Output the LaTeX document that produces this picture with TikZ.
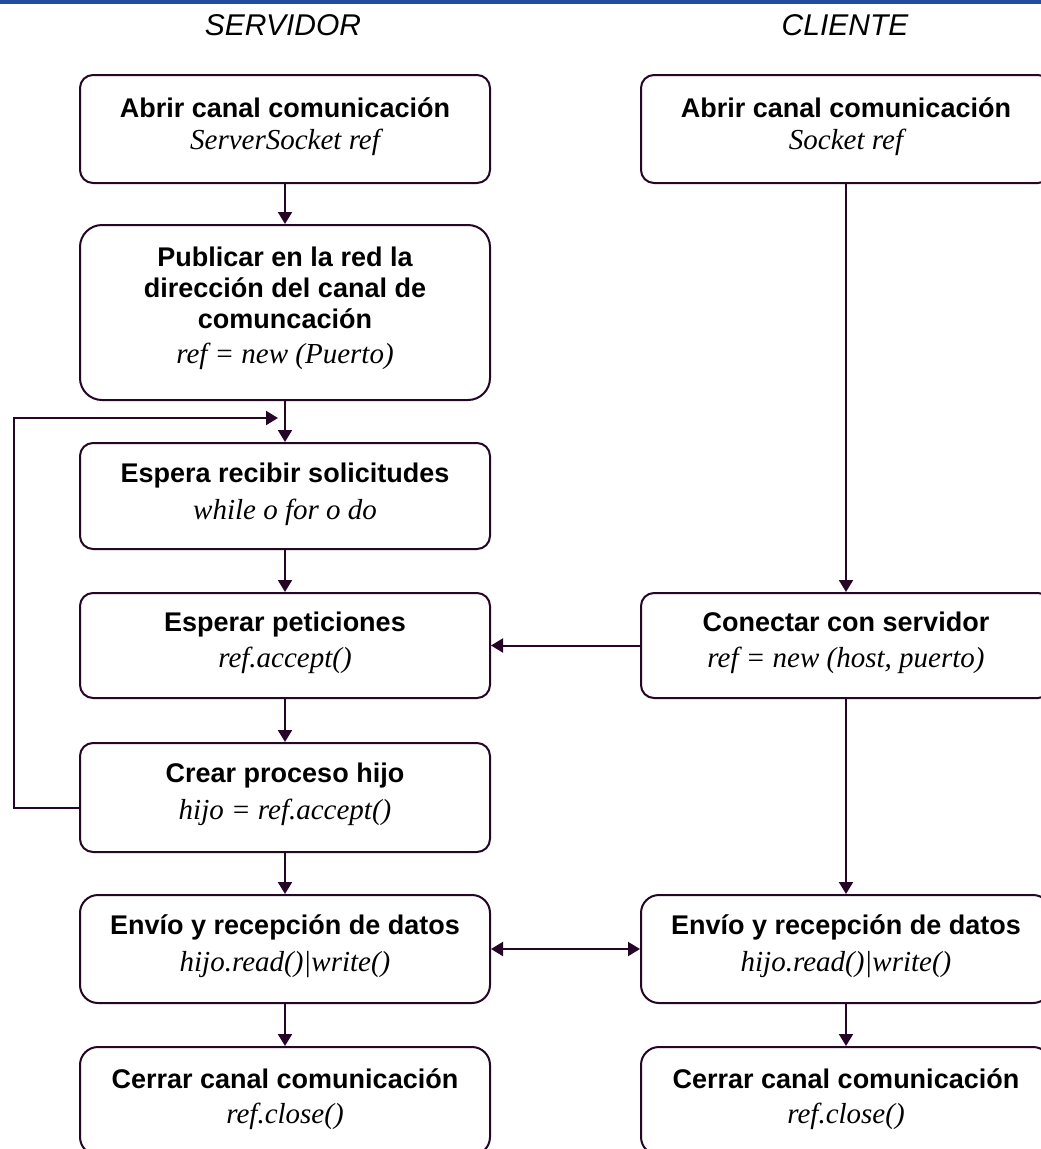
\documentclass[tikz,border=0pt]{standalone}
\usepackage{fontspec}
\setmainfont{Liberation Serif}
\setsansfont{Liberation Sans}
\usetikzlibrary{arrows.meta,calc}

\definecolor{ink}{RGB}{38,6,38}
\definecolor{topbar}{RGB}{31,78,160}

\tikzset{
  stepbox/.style={draw=ink, line width=2pt, rounded corners=13pt,
    minimum width=410pt, inner sep=0pt, fill=white},
  ttl/.style={anchor=base, inner sep=0pt, text=black,
    font=\sffamily\bfseries\fontsize{27}{30}\selectfont},
  code/.style={anchor=base, inner sep=0pt, text=black,
    font=\rmfamily\itshape\fontsize{29}{32}\selectfont},
  head/.style={anchor=base, inner sep=0pt, text=black,
    font=\sffamily\itshape\fontsize{30}{32}\selectfont},
  arr/.style={draw=ink, line width=2pt,
    -{Triangle[length=12pt,width=14pt]}},
  darr/.style={draw=ink, line width=2pt,
    {Triangle[length=12pt,width=14pt]}-{Triangle[length=12pt,width=14pt]}},
}

\begin{document}
\begin{tikzpicture}[x=1pt,y=-1pt]
\useasboundingbox (0,0) rectangle (1041,1149);
\clip (0,0) rectangle (1041,1149);
\fill[white] (0,0) rectangle (1041,1149);
\fill[topbar] (0,0) rectangle (1041,4);

% column headings
\node[head] (hs) at (283,35) {SERVIDOR};
\node[head] (hc) at (845,35) {CLIENTE};

% server column
\node[stepbox, minimum height=108pt] (s1) at (285,129) {};
\node[stepbox, minimum height=175pt, rounded corners=22pt] (s2) at (285,312.5) {};
\node[stepbox, minimum height=106pt] (s3) at (285,496) {};
\node[stepbox, minimum height=105pt] (s4) at (285,645.5) {};
\node[stepbox, minimum height=109pt] (s5) at (285,797.5) {};
\node[stepbox, minimum height=108pt, rounded corners=18pt] (s6) at (285,949) {};
\node[stepbox, minimum height=108pt, rounded corners=18pt] (s7) at (285,1101) {};

% client column
\node[stepbox, minimum height=108pt] (c1) at (846,129) {};
\node[stepbox, minimum height=105pt] (c2) at (846,645.5) {};
\node[stepbox, minimum height=108pt, rounded corners=18pt] (c3) at (846,949) {};
\node[stepbox, minimum height=108pt, rounded corners=18pt] (c4) at (846,1101) {};

% server texts
\node[ttl]  (s1a) at ($(s1.north)+(0,43)$) {Abrir canal comunicación};
\node[code] (s1b) at ($(s1.north)+(0,75)$) {ServerSocket ref};
\node[ttl]  (s2a) at ($(s2.north)+(0,42)$) {Publicar en la red la};
\node[ttl]  (s2b) at ($(s2.north)+(0,73)$) {dirección del canal de};
\node[ttl]  (s2c) at ($(s2.north)+(0,104)$) {comuncación};
\node[code] (s2d) at ($(s2.north)+(0,139)$) {ref = new (Puerto)};
\node[ttl]  (s3a) at ($(s3.north)+(0,40)$) {Espera recibir solicitudes};
\node[code] (s3b) at ($(s3.north)+(0,77)$) {while o for o do};
\node[ttl]  (s4a) at ($(s4.north)+(0,39)$) {Esperar peticiones};
\node[code] (s4b) at ($(s4.north)+(0,75)$) {ref.accept()};
\node[ttl]  (s5a) at ($(s5.north)+(0,40)$) {Crear proceso hijo};
\node[code] (s5b) at ($(s5.north)+(0,77)$) {hijo = ref.accept()};
\node[ttl]  (s6a) at ($(s6.north)+(0,40)$) {Envío y recepción de datos};
\node[code] (s6b) at ($(s6.north)+(0,77)$) {hijo.read()|write()};
\node[ttl]  (s7a) at ($(s7.north)+(0,42)$) {Cerrar canal comunicación};
\node[code] (s7b) at ($(s7.north)+(0,77)$) {ref.close()};

% client texts
\node[ttl]  (c1a) at ($(c1.north)+(0,43)$) {Abrir canal comunicación};
\node[code] (c1b) at ($(c1.north)+(0,75)$) {Socket ref};
\node[ttl]  (c2a) at ($(c2.north)+(0,39)$) {Conectar con servidor};
\node[code] (c2b) at ($(c2.north)+(0,75)$) {ref = new (host, puerto)};
\node[ttl]  (c3a) at ($(c3.north)+(0,40)$) {Envío y recepción de datos};
\node[code] (c3b) at ($(c3.north)+(0,77)$) {hijo.read()|write()};
\node[ttl]  (c4a) at ($(c4.north)+(0,42)$) {Cerrar canal comunicación};
\node[code] (c4b) at ($(c4.north)+(0,77)$) {ref.close()};

% server flow
\draw[arr] (s1) -- (s2);
\draw[arr] (s2) -- (s3);
\draw[arr] (s3) -- (s4);
\draw[arr] (s4) -- (s5);
\draw[arr] (s5) -- (s6);
\draw[arr] (s6) -- (s7);

% loop back to waiting for requests
\coordinate (loopend) at (278,418);
\draw[arr] ($(s5.west)+(0,10)$) -- ++(-65,0) |- (loopend);

% client flow
\draw[arr] (c1) -- (c2);
\draw[arr] (c2) -- (c3);
\draw[arr] (c3) -- (c4);

% connections between columns
\draw[arr] (c2.west) -- (s4.east);
\draw[darr] (s6.east) -- (c3.west);
\end{tikzpicture}
\end{document}
